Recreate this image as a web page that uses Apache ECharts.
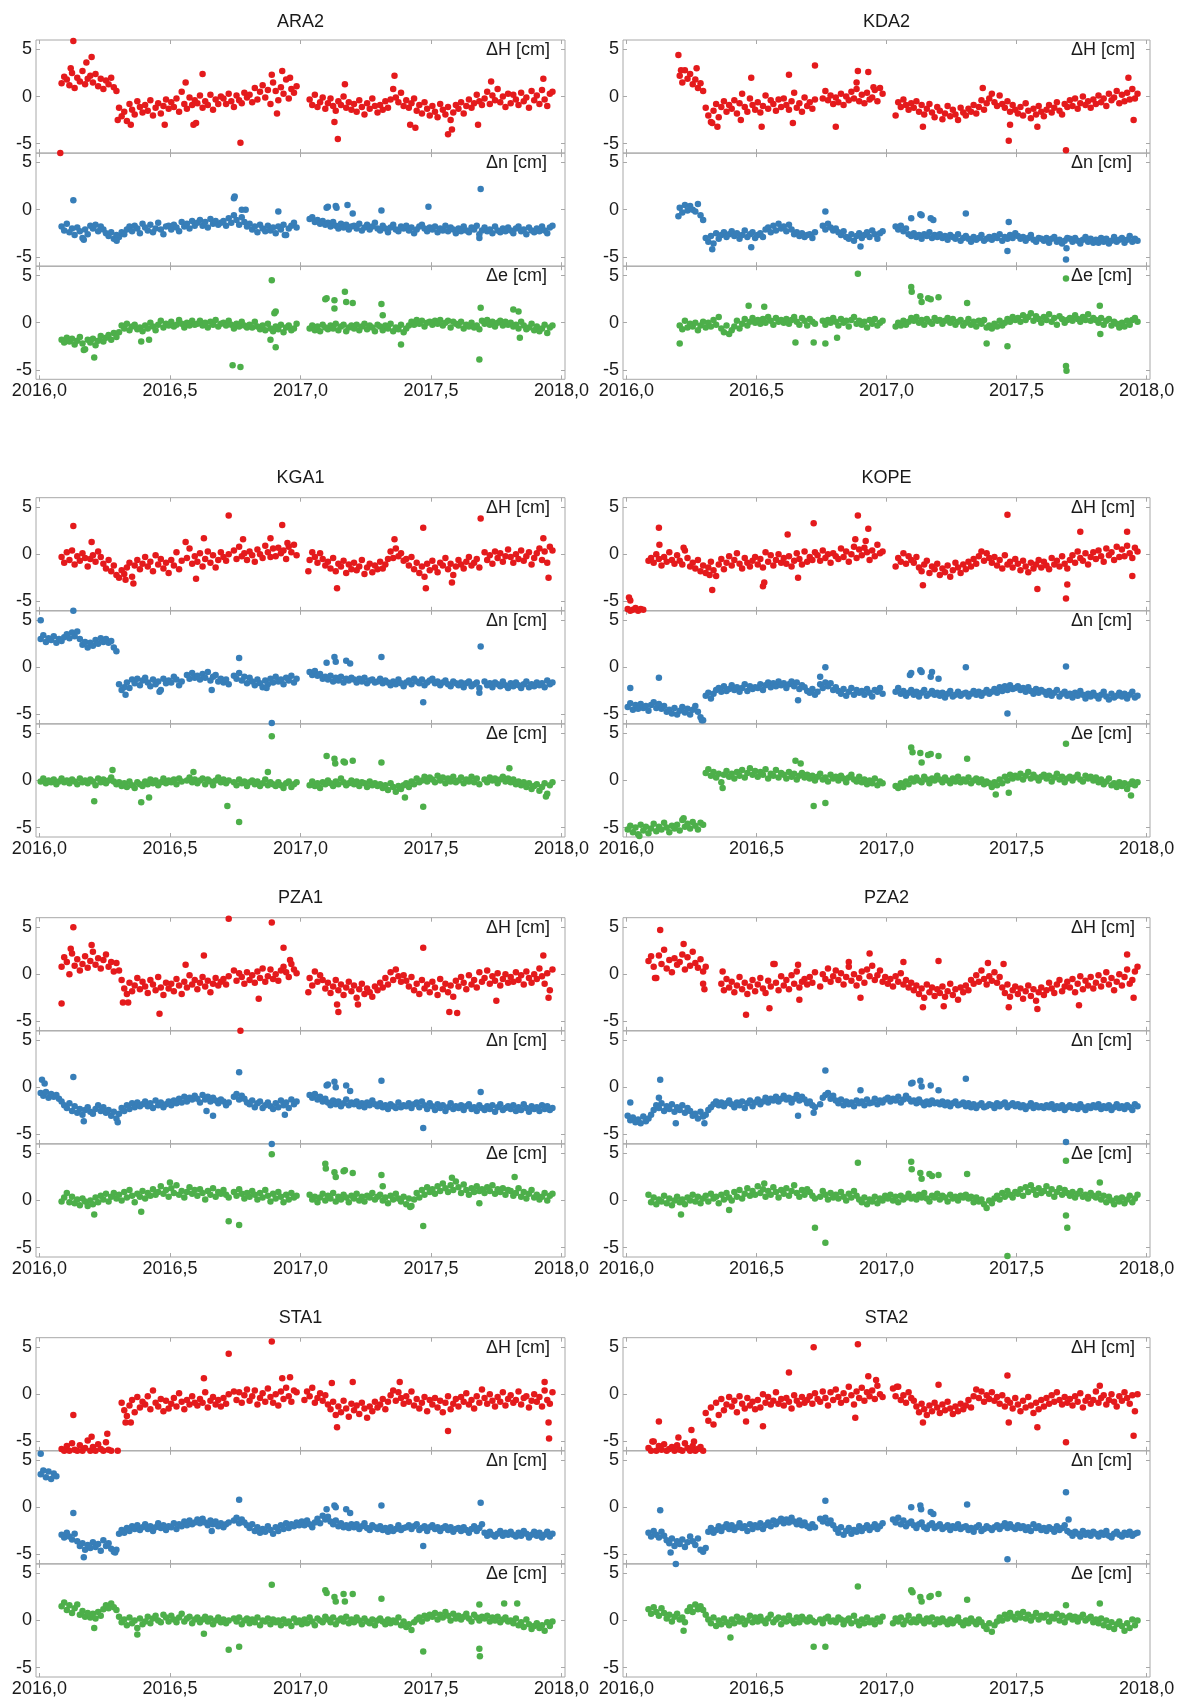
<!DOCTYPE html>
<html><head><meta charset="utf-8">
<script src="https://cdn.jsdelivr.net/npm/echarts@6/dist/echarts.min.js"></script>
<style>html,body{margin:0;padding:0;background:#fff}#c{width:1181px;height:1699px}</style>
</head><body><div id="c"></div>
<script>
const _ = null;
const gap = n => Array(n).fill(null);
// epochs: T0 + i*STEP (decimal years); values in mm (tenths of cm)
const T0 = 2016.005, STEP = 0.01;
const STATIONS = ['ARA2','KDA2','KGA1','KOPE','PZA1','PZA2','STA1','STA2'];
const X_TICKS = [2016, 2016.5, 2017, 2017.5, 2018];
const Y_TICKS = [-5, 0, 5];
const COMP_LABELS = ['ΔH [cm]', 'Δn [cm]', 'Δe [cm]'];

// ---------- ARA2 ----------
const ARA2_H = [...gap(8), 14, 21,
 18,12,25,9,20,16,27,13,19,22,
 15,24,11,19,8,17,13,20,10,6,
 -12,-21,-16,-26,-8,-14,-19,-5,-11,-17,
 -9,-15,-4,-20,-12,-7,-18,-10,-3,-13,
 -6,-11,-2,-16,5,-8,-13,-1,-9,-4,
 -7,1,-12,-5,-9,2,-14,-3,-8,0,
 -2,-8,3,-5,-11,1,-4,-7,4,-1,
 2,-6,9,-3,5,12,-1,7,-8,15,
 6,-4,10,3,18,-2,8,4,11,_,
 _,_,_,-3,-9,2,-11,-6,-1,-13,
 -7,-2,-10,-15,-5,-9,0,-12,-6,-14,
 -8,-16,-4,-11,-19,-7,-13,-2,-10,-17,
 -9,-14,-5,-12,-3,8,-1,-6,4,-10,
 -4,-12,-7,-2,-15,-9,-18,-6,-13,-20,
 -10,-16,-22,-8,-14,-19,-11,-25,-17,-9,
 -13,-6,-18,-10,-3,-12,-7,2,-5,-9,
 -2,5,-8,1,-4,8,-6,0,-11,3,
 -7,2,-3,-9,4,-5,-1,-12,6,-4,
 1,-8,7,-3,-10,3,5];
const ARA2_N = [...gap(8), -18, -22,
 -15,-24,-20,-27,-19,-23,-30,-21,-26,-17,
 -20,-16,-23,-18,-21,-25,-28,-24,-31,-27,
 -29,-24,-26,-21,-18,-23,-17,-20,-25,-15,
 -19,-22,-16,-24,-20,-14,-21,-26,-18,-17,
 -21,-16,-19,-23,-13,-18,-15,-20,-12,-17,
 -14,-11,-17,-13,-19,-10,-15,-12,-16,-14,
 -12,-17,-9,-14,-6,-11,-16,-8,-13,-18,
 -15,-21,-18,-24,-16,-20,-23,-17,-22,-19,
 -25,-18,-21,-16,-27,-20,-17,-14,-19,_,
 _,_,_,-10,-8,-13,-11,-15,-12,-16,
 -14,-18,-13,-17,-20,-15,-19,-16,-21,-18,
 -17,-20,-15,-22,-19,-16,-21,-18,-14,-20,
 -22,-17,-20,-24,-19,-16,-21,-23,-18,-20,
 -17,-22,-19,-25,-21,-18,-16,-20,-23,-19,
 -21,-18,-24,-20,-22,-17,-23,-19,-21,-25,
 -20,-23,-18,-22,-24,-19,-21,-17,-26,-22,
 -19,-23,-21,-25,-18,-22,-24,-20,-23,-19,
 -22,-25,-20,-18,-23,-21,-26,-19,-22,-24,
 -20,-23,-18,-22,-25,-19,-17];
const ARA2_E = [...gap(8), -18, -21,
 -16,-20,-17,-23,-19,-15,-22,-28,-18,-21,
 -17,-24,-19,-14,-20,-16,-13,-18,-11,-15,
 -10,-3,-6,-1,-8,-4,-2,-7,-5,-9,
 -3,-6,0,-4,-8,-2,2,-5,-1,-3,
 1,-4,-2,3,-1,-5,0,-3,2,-2,
 -1,2,-3,0,-5,1,-2,3,-4,-1,
 0,-3,2,-2,-6,-1,-4,1,-3,-5,
 -2,-5,1,-4,-7,-3,-8,-1,-6,-9,
 -4,-7,-2,-10,-5,-3,-8,-6,-1,_,
 _,_,_,-6,-3,-8,-4,-9,-2,-5,
 -7,-3,-6,-1,-8,-4,-2,-9,-5,-3,
 -6,-2,-8,-4,-1,-7,-3,-5,-9,-2,
 -4,-8,-3,-6,-1,-9,-5,-7,-2,-10,
 -6,-3,1,-2,3,-1,2,-4,0,1,
 -2,2,-1,3,-3,0,2,-5,1,-1,
 -3,1,-6,-2,-4,0,-5,-3,-7,2,
 -1,3,-2,1,-4,0,2,-3,1,-2,
 0,-4,-2,-6,1,-3,-7,-5,-1,-8,
 -4,-9,-6,-2,-11,-5,-3];
const ARA2_H_OUT = [[2016.08,-6.0],[2016.13,5.9],[2016.12,3.0],[2016.18,3.6],[2016.2,4.2],[2016.3,-2.5],[2016.35,-3.0],[2016.48,-3.0],[2016.56,1.5],[2016.59,-3.0],[2016.6,-2.8],[2016.625,2.4],[2016.77,-4.9],[2016.89,2.3],[2016.91,-1.8],[2016.93,2.7],[2016.96,2.0],[2017.13,-2.7],[2017.143,-4.5],[2017.17,1.3],[2017.36,2.2],[2017.42,-3.0],[2017.44,-3.3],[2017.565,-4.0],[2017.58,-3.5],[2017.68,-3.0],[2017.73,1.6],[2017.93,1.9]];
const ARA2_N_OUT = [[2016.13,1.0],[2016.17,-3.2],[2016.296,-3.3],[2016.745,1.2],[2016.748,1.4],[2016.775,0.0],[2016.79,0.0],[2016.915,-0.2],[2016.94,-2.7],[2017.1,0.2],[2017.105,0.3],[2017.135,0.4],[2017.138,0.2],[2017.18,0.5],[2017.2,-0.4],[2017.31,-0.1],[2017.49,0.3],[2017.685,-3.0],[2017.69,2.2]];
const ARA2_E_OUT = [[2016.17,-2.9],[2016.21,-3.7],[2016.39,-2.0],[2016.42,-1.8],[2016.74,-4.5],[2016.77,-4.7],[2016.885,-1.8],[2016.89,4.5],[2016.9,1.0],[2016.905,1.2],[2016.905,-2.6],[2017.095,2.5],[2017.1,2.6],[2017.13,2.4],[2017.13,1.5],[2017.17,3.3],[2017.175,2.2],[2017.2,2.1],[2017.31,2.0],[2017.315,0.8],[2017.385,-2.3],[2017.685,-3.9],[2017.69,1.6],[2017.815,1.4],[2017.835,1.2],[2017.84,-1.6]];

// ---------- KDA2 ----------
const KDA2_H = [...gap(20),
 22,15,28,19,24,13,18,9,14,6,
 -12,-20,-27,-15,-8,-22,-11,-5,-16,-9,
 -13,-4,-18,-7,3,-11,-16,-2,-9,-14,
 -6,-17,-10,1,-13,-4,-8,-15,-3,-11,
 -2,-9,-14,-5,4,-12,-7,-16,-1,-10,
 -6,-13,-3,_,_,-2,6,-4,1,-8,
 -1,-6,3,-9,0,-4,5,-2,8,-5,
 2,-7,4,-3,-1,7,-5,9,3,_,
 _,_,_,-20,-6,-11,-3,-9,-14,-7,
 -12,-5,-16,-9,-19,-13,-8,-17,-22,-11,
 -15,-24,-18,-10,-21,-14,-19,-25,-12,-17,
 -20,-13,-16,-9,-18,-11,-4,-14,-7,-2,
 3,-6,-10,1,-8,-12,-5,-16,-9,-14,
 -18,-11,-20,-7,-15,-23,-13,-19,-10,-16,
 -21,-14,-9,-17,-12,-6,-15,-19,-8,-11,
 -4,-10,-2,-13,-7,0,-9,-5,-12,-3,
 -8,1,-6,-2,-10,3,-4,-1,6,-7,
 2,-5,4,-3,8,-2,3];
const KDA2_N = [...gap(20),
 2,-3,5,-1,4,0,-2,6,-6,-11,
 -30,-34,-28,-36,-25,-31,-27,-24,-29,-26,
 -23,-28,-25,-31,-27,-22,-29,-26,-24,-30,
 -27,-25,-29,-21,-19,-24,-17,-22,-15,-20,
 -18,-23,-16,-21,-26,-24,-28,-25,-29,-27,
 -26,-30,-24,_,_,-17,-21,-15,-19,-22,
 -20,-24,-27,-23,-29,-31,-26,-33,-28,-25,
 -30,-27,-24,-29,-22,-26,-31,-25,-23,_,
 _,_,_,-18,-21,-17,-23,-20,-26,-28,
 -25,-29,-27,-31,-26,-28,-24,-30,-27,-29,
 -26,-30,-28,-32,-27,-29,-31,-26,-33,-30,
 -28,-31,-34,-29,-32,-30,-27,-33,-31,-29,
 -32,-28,-30,-26,-33,-29,-31,-27,-30,-25,
 -28,-31,-29,-33,-30,-27,-32,-34,-30,-31,
 -33,-30,-35,-31,-29,-34,-32,-36,-33,-30,
 -31,-34,-30,-33,-36,-32,-29,-34,-31,-35,
 -32,-35,-30,-34,-31,-36,-33,-29,-34,-32,
 -30,-35,-32,-28,-34,-31,-33];
const KDA2_E = [...gap(20),
 -3,-7,2,-5,-1,-4,0,-8,-3,1,
 -5,0,-4,3,-2,6,-6,-10,-3,-12,
 -8,-4,2,-6,-1,4,-3,1,5,0,
 3,-1,4,0,6,2,-2,5,1,3,
 0,4,-1,3,6,1,-2,5,2,-3,
 4,1,-1,_,_,2,-2,3,0,5,
 1,-3,4,0,2,-4,3,6,-1,2,
 -2,1,-5,3,-1,4,-3,0,2,_,
 _,_,_,-4,0,-3,2,-2,1,5,
 2,6,0,3,-2,4,1,-1,5,2,
 3,-1,2,5,0,4,-2,1,3,-3,
 0,4,-2,1,-4,2,-1,3,-5,-3,
 -6,-1,-4,2,-3,0,4,1,6,3,
 5,1,8,3,6,10,2,7,4,0,
 6,3,9,1,5,-2,7,4,0,3,
 5,2,8,4,1,6,3,9,2,5,
 3,0,5,-2,2,4,-3,1,-1,-5,
 0,-4,2,-2,3,5,1];
const KDA2_H_OUT = [[2016.2,4.4],[2016.21,2.8],[2016.27,3.0],[2016.33,-2.8],[2016.35,-3.2],[2016.44,-2.5],[2016.48,2.0],[2016.52,-3.2],[2016.625,2.3],[2016.64,-2.8],[2016.725,3.3],[2016.805,-3.2],[2016.885,1.5],[2016.89,2.7],[2016.93,2.6],[2016.95,1.0],[2017.14,-3.2],[2017.37,0.9],[2017.47,-4.7],[2017.475,-3.0],[2017.58,-3.2],[2017.69,-5.7],[2017.93,2.0],[2017.95,-2.5]];
const KDA2_N_OUT = [[2016.2,-0.7],[2016.33,-4.2],[2016.48,-4.0],[2016.765,-0.2],[2016.9,-3.9],[2017.095,-0.9],[2017.13,-0.5],[2017.135,-0.6],[2017.17,-0.9],[2017.18,-1.1],[2017.305,-0.4],[2017.465,-4.4],[2017.47,-1.3],[2017.69,-5.3],[2017.692,-4.1]];
const KDA2_E_OUT = [[2016.205,-2.2],[2016.47,1.8],[2016.53,1.7],[2016.65,-2.1],[2016.72,-2.1],[2016.765,-2.2],[2016.81,-1.6],[2016.89,5.2],[2017.095,3.8],[2017.097,3.3],[2017.13,2.8],[2017.135,2.2],[2017.16,2.6],[2017.17,2.5],[2017.2,2.7],[2017.31,2.1],[2017.385,-2.2],[2017.465,-2.5],[2017.69,4.7],[2017.69,-4.6],[2017.692,-5.1],[2017.82,1.8],[2017.822,-1.2]];

// ---------- KGA1 ----------
const KGA1_H = [...gap(8), -3, -9,
 2,-6,4,-11,-2,-7,1,-4,-13,-5,
 -1,-8,3,-3,-10,-15,-6,-18,-12,-22,
 -25,-17,-21,-14,-9,-24,-12,-6,-16,-10,
 -3,-13,-8,-18,-1,-11,-5,-15,-9,-20,
 -6,-12,2,-16,-7,_,-4,6,-10,-2,
 -8,1,-13,-5,3,-9,-1,-14,-6,2,
 -3,-7,0,_,4,-5,8,-2,1,-6,
 3,-1,-8,5,0,-4,9,2,-3,6,
 -2,7,1,4,-5,8,2,10,-1,_,
 _,_,_,-6,2,-3,-9,1,-5,-12,
 -8,-15,-4,-18,-10,-13,-7,-20,-11,-16,
 -9,-17,-13,-6,-21,-14,-10,-19,-12,-16,
 -8,-15,-11,-5,3,-4,6,-2,1,-7,
 -5,-12,-3,-16,-9,-20,-13,-24,-10,-17,
 -7,-14,-19,-9,-12,-4,-16,-10,-22,-13,
 -6,-11,-15,-8,-3,-12,-9,-5,-14,_,
 2,-6,-1,-10,3,-4,1,-8,-2,5,
 -3,-9,0,-5,4,-7,-2,2,-11,-4,
 1,6,-6,3,-9,8,4];
const KGA1_N = [
 30,34,27,31,29,33,26,30,28,32,
 35,31,37,33,38,30,24,27,21,26,
 23,29,25,31,27,30,26,28,21,17,
 -18,-24,-21,-16,-22,-13,-17,-12,-19,-14,
 -11,-16,-20,-13,-18,-15,-24,-12,-17,-14,
 -16,-10,-13,-19,-15,_,-8,-12,-6,-11,
 -9,-13,-7,-11,-5,-14,-10,-8,-15,-12,
 -16,-13,-18,_,-9,-12,-6,-14,-10,-17,
 -11,-15,-19,-13,-17,-21,-14,-18,-12,-16,
 -10,-15,-13,-18,-11,-14,-9,-16,-12,_,
 _,_,_,-5,-8,-4,-9,-7,-12,-10,
 -13,-9,-15,-11,-14,-10,-16,-12,-14,-11,
 -13,-16,-12,-15,-11,-17,-14,-13,-16,-15,
 -12,-17,-14,-16,-19,-15,-18,-13,-17,-20,
 -16,-14,-18,-12,-15,-17,-13,-19,-16,-14,
 -12,-17,-15,-19,-16,-14,-18,-20,-15,-17,
 -19,-16,-21,-17,-15,-20,-18,-16,-22,_,
 -15,-19,-17,-21,-16,-18,-20,-15,-19,-22,
 -17,-20,-16,-19,-22,-18,-15,-21,-18,-20,
 -16,-19,-17,-21,-14,-18,-16];
const KGA1_E = [
 -1,2,-3,0,-2,1,-4,-1,2,-2,
 0,-3,1,-1,-4,2,-2,0,-3,1,
 -1,-5,2,-2,1,-3,0,3,-1,-4,
 -2,-6,-3,-7,-1,-5,-8,-2,-4,-6,
 -1,-4,1,-3,0,-5,-2,2,-3,0,
 -2,1,-4,2,-1,_,0,3,-2,1,
 -3,0,2,-4,1,-1,-5,0,3,-2,
 1,-3,0,_,-2,-5,1,-3,-1,-6,
 -2,0,-4,-1,-6,-3,1,-5,-2,-4,
 -6,-2,-5,-8,-3,-1,-7,-4,-2,_,
 _,_,_,-5,-1,-6,-3,-8,-2,-4,
 0,-3,-6,-1,-4,2,-2,-5,-3,0,
 -4,-1,-6,-2,-3,-7,-1,-5,-3,-6,
 -4,-8,-5,-10,-3,-7,-12,-6,-9,-5,
 -3,-7,-1,-4,2,-2,0,4,-1,3,
 1,-2,5,0,3,-3,2,-1,4,-2,
 0,3,-3,1,-1,4,-2,2,-4,_,
 1,-2,3,0,2,-3,1,4,-1,2,
 -2,1,-4,-1,-5,-2,-7,-3,-9,-6,
 -4,-11,-7,-3,-14,-5,-2];
const KGA1_H_OUT = [[2016.13,3.0],[2016.2,1.3],[2016.33,-2.7],[2016.36,-3.1],[2016.56,1.3],[2016.6,-2.6],[2016.63,1.7],[2016.725,4.1],[2016.78,1.6],[2016.885,1.7],[2016.93,3.1],[2016.95,1.2],[2017.03,-1.8],[2017.14,-3.6],[2017.36,1.6],[2017.47,2.8],[2017.48,-3.6],[2017.58,-3.0],[2017.69,3.8],[2017.93,1.7],[2017.95,-2.5]];
const KGA1_N_OUT = [[2016.005,5.0],[2016.13,6.0],[2016.33,-2.9],[2016.46,-2.6],[2016.66,-2.4],[2016.765,1.0],[2016.87,-2.2],[2016.89,-5.9],[2017.1,0.5],[2017.13,1.1],[2017.135,0.6],[2017.175,0.7],[2017.19,0.4],[2017.31,1.1],[2017.47,-3.7],[2017.685,-2.7],[2017.69,2.2]];
const KGA1_E_OUT = [[2016.21,-2.2],[2016.28,1.1],[2016.39,-2.3],[2016.42,-1.8],[2016.59,0.9],[2016.72,-2.7],[2016.765,-4.4],[2016.875,0.9],[2016.89,4.7],[2017.1,2.6],[2017.13,2.3],[2017.133,1.8],[2017.165,2.0],[2017.17,1.9],[2017.2,2.1],[2017.31,1.9],[2017.4,-1.8],[2017.47,-2.8],[2017.8,1.3],[2017.94,-1.7]];

// ---------- KOPE ----------
const KOPE_H = [
 -58,-60,-59,-57,-60,-58,-59,_,-7,-4,
 -9,0,-5,-12,-3,-8,2,-6,-10,-1,
 -7,-11,4,-4,-13,-9,-15,-6,-18,-12,
 -20,-14,-8,-17,-23,-11,-5,-16,-9,-2,
 -12,-6,1,-10,-15,-4,-9,-13,-7,-3,
 -11,-5,-14,2,-8,-1,-12,-6,0,-9,
 -4,-10,-2,-13,-7,1,-5,-11,3,-8,
 -3,-6,2,-1,-7,4,-4,0,-9,1,
 -2,-5,6,-3,3,-8,0,8,-4,5,
 -1,7,2,-6,4,-2,10,1,3,_,
 _,_,_,-13,-4,-8,1,-10,-2,-6,
 -9,-3,-14,-18,-11,-7,-20,-13,-16,-10,
 -22,-15,-19,-12,-24,-17,-9,-14,-20,-11,
 -16,-8,-13,-5,-10,-2,3,-7,1,-4,
 -9,-3,-12,-6,-15,-1,-11,-8,-14,-5,
 -10,-17,-7,-13,-19,-9,-15,-11,-6,-14,
 -8,-12,-16,-4,-11,-7,-13,-2,-10,-15,
 -6,-1,-9,3,-4,-7,1,-11,-3,2,
 -5,4,-2,-8,6,-1,2,-6,8,-3,
 5,-2,9,1,-4,7,3];
const KOPE_N = [
 -42,-38,-45,-40,-44,-39,-43,-41,-46,-40,
 -37,-43,-39,-44,-41,-47,-45,-49,-43,-50,
 -46,-42,-48,-44,-50,-45,-41,-47,-53,-56,
 -30,-27,-33,-28,-24,-22,-26,-20,-25,-23,
 -19,-24,-21,-26,-22,-18,-25,-20,-23,-21,
 -22,-18,-24,-19,-16,-21,-17,-20,-15,-19,
 -17,-22,-18,-15,-20,-16,-23,-19,-21,-25,
 -27,-23,-29,-26,-18,-22,-16,-20,-17,-24,
 -21,-25,-28,-23,-30,-26,-22,-29,-24,-27,
 -25,-29,-23,-27,-31,-24,-26,-22,-28,_,
 _,_,_,-26,-22,-28,-25,-30,-27,-24,
 -29,-26,-31,-27,-24,-30,-28,-25,-29,-27,
 -30,-27,-32,-28,-25,-31,-29,-26,-30,-28,
 -27,-31,-28,-25,-29,-26,-30,-27,-24,-28,
 -26,-23,-27,-21,-25,-20,-24,-19,-23,-22,
 -20,-24,-22,-26,-21,-25,-28,-23,-27,-24,
 -26,-29,-25,-30,-27,-24,-31,-28,-26,-30,
 -28,-32,-27,-30,-25,-29,-33,-28,-31,-27,
 -30,-33,-29,-26,-31,-34,-28,-32,-30,-27,
 -31,-28,-33,-29,-26,-32,-30];
const KOPE_E = [
 -52,-48,-55,-50,-57,-47,-53,-49,-56,-51,
 -46,-54,-49,-52,-45,-50,-55,-48,-51,-47,
 -53,-42,-49,-46,-51,-44,-48,-52,-45,-47,
 8,12,5,9,3,7,-2,6,10,4,
 7,2,9,5,11,3,8,13,6,10,
 4,9,6,12,2,7,5,11,3,8,
 6,2,9,4,7,1,5,8,3,6,
 2,5,0,4,7,1,3,-1,6,2,
 4,0,5,2,-2,3,6,1,-1,4,
 -2,1,-4,0,-3,2,-5,-1,-3,_,
 _,_,_,-6,-8,-3,-7,-1,-4,2,
 -1,3,0,-2,4,1,-3,2,0,5,
 1,-2,3,0,-3,2,-1,4,-2,1,
 -1,3,-3,0,2,-2,1,-4,-1,-3,
 -7,-2,-5,1,-3,4,0,6,2,5,
 3,7,1,5,9,2,6,3,0,4,
 6,2,5,-1,3,7,1,4,-2,2,
 4,0,3,6,1,-1,5,2,4,0,
 3,-2,1,-4,-1,2,-5,-3,-7,-2,
 -6,-3,-9,-4,-1,-5,-2];
const KOPE_H_OUT = [[2016.01,-4.6],[2016.015,-4.9],[2016.125,2.8],[2016.127,1.0],[2016.22,0.7],[2016.32,-2.2],[2016.33,-3.8],[2016.525,-3.4],[2016.53,-3.0],[2016.62,2.1],[2016.66,-2.5],[2016.72,3.3],[2016.88,1.6],[2016.89,4.1],[2016.92,1.4],[2016.93,2.7],[2017.14,-3.3],[2017.465,4.2],[2017.58,-3.7],[2017.69,-4.7],[2017.695,-3.2],[2017.745,2.4],[2017.925,2.4],[2017.945,-2.3]];
const KOPE_N_OUT = [[2016.015,-2.2],[2016.125,-1.1],[2016.29,-5.6],[2016.66,-3.5],[2016.745,-1.0],[2016.765,0.0],[2017.09,-0.8],[2017.095,-0.6],[2017.13,-0.3],[2017.135,-0.5],[2017.17,-1.0],[2017.175,-0.5],[2017.2,-1.2],[2017.305,0.0],[2017.465,-4.9],[2017.69,0.1]];
const KOPE_E_OUT = [[2016.05,-5.9],[2016.22,-4.0],[2016.37,-0.8],[2016.65,2.1],[2016.67,1.8],[2016.72,-2.7],[2016.765,-2.4],[2017.095,3.5],[2017.1,3.0],[2017.13,2.9],[2017.135,1.9],[2017.16,2.7],[2017.17,2.8],[2017.2,2.6],[2017.31,2.3],[2017.42,-1.5],[2017.47,-1.3],[2017.69,3.9],[2017.94,-1.6]];

// ---------- PZA1 ----------
const PZA1_H = [...gap(8), 8, 18,
 13,0,22,9,16,4,11,19,7,14,
 24,10,17,6,15,21,8,13,3,12,
 4,-6,-15,-21,-9,-18,-12,-4,-16,-8,
 -13,-20,-6,-11,-17,-3,-14,-22,-9,-15,
 -10,-18,-5,-12,-21,-8,-14,-1,-11,-6,
 -16,-9,-3,-13,-7,-19,-10,-4,-12,-8,
 -5,-11,-2,_,4,-7,1,-3,-10,2,
 -6,-1,-9,3,-4,6,-8,-2,5,-5,
 0,-7,4,8,2,-3,11,5,1,_,
 _,_,_,-4,-12,3,-8,-1,-6,-15,
 -9,-20,-13,-6,-17,-11,-22,-14,-8,-18,
 -12,-25,-16,-10,-21,-15,-19,-24,-13,-17,
 -9,-14,-4,-11,2,-6,5,-2,-8,-1,
 -7,-13,-3,-17,-10,-21,-6,-15,-11,-19,
 -8,-14,-22,-5,-16,-10,-19,-12,-24,-7,
 -13,-3,-9,-16,-1,-11,-6,-14,2,-8,
 -4,4,-10,-2,-7,1,-12,-5,0,-9,
 -3,-8,2,-6,-1,-11,3,-4,-9,0,
 -5,6,-2,-10,1,-17,5];
const PZA1_N = [
 -6,-9,-5,-11,-7,-10,-8,-12,-15,-19,
 -22,-17,-25,-20,-27,-23,-29,-24,-21,-26,
 -28,-23,-19,-25,-21,-27,-24,-30,-26,-33,
 -28,-22,-25,-19,-23,-17,-21,-16,-20,-18,
 -15,-20,-17,-22,-14,-19,-16,-21,-18,-15,
 -19,-14,-17,-12,-16,-10,-15,-11,-13,-9,
 -12,-16,-8,-13,-10,-15,-11,-14,-17,-13,
 -15,-19,-16,_,-10,-7,-13,-9,-12,-16,
 -18,-14,-21,-17,-15,-22,-19,-16,-20,-23,
 -17,-21,-14,-19,-16,-22,-13,-18,-15,_,
 _,_,_,-8,-11,-7,-13,-10,-15,-12,
 -16,-19,-14,-18,-15,-20,-17,-13,-19,-16,
 -18,-15,-20,-17,-21,-16,-19,-14,-18,-20,
 -17,-21,-19,-23,-18,-20,-22,-16,-21,-19,
 -20,-17,-22,-18,-16,-21,-15,-19,-23,-17,
 -20,-24,-18,-22,-19,-25,-21,-17,-23,-20,
 -22,-19,-24,-20,-18,-23,-21,-25,-19,-22,
 -24,-20,-23,-19,-26,-21,-18,-24,-22,-20,
 -23,-19,-25,-21,-24,-18,-22,-26,-20,-23,
 -21,-25,-19,-23,-20,-24,-22];
const PZA1_E = [...gap(8), -1, 3,
 8,-2,4,-3,1,-5,2,-1,-6,0,
 -4,3,-2,5,1,7,-1,4,8,2,
 6,0,9,3,11,5,-2,7,4,10,
 2,8,5,12,6,9,15,7,11,4,
 13,8,16,6,10,3,9,14,7,11,
 5,12,8,1,10,6,13,4,9,7,
 11,6,3,_,9,5,12,7,2,8,
 4,10,6,1,8,3,11,5,-1,7,
 2,9,4,-2,6,1,8,3,5,_,
 _,_,_,6,1,4,-2,3,7,0,
 5,2,8,-1,4,1,6,3,-2,5,
 2,7,0,4,-1,5,3,8,1,4,
 6,0,3,-3,5,1,7,2,-1,4,
 -4,2,-6,1,8,3,11,6,14,9,
 12,7,15,10,18,13,9,16,11,20,
 14,8,17,11,6,13,9,15,10,12,
 8,14,10,16,7,12,9,13,6,11,
 10,5,8,13,4,9,2,7,11,3,
 6,1,4,8,0,5,7];
const PZA1_H_OUT = [[2016.085,-3.1],[2016.12,2.7],[2016.13,5.0],[2016.2,3.1],[2016.32,-3.0],[2016.34,-3.0],[2016.46,-4.2],[2016.56,1.0],[2016.63,2.0],[2016.725,5.9],[2016.77,-6.0],[2016.84,-2.6],[2016.89,5.5],[2016.935,2.8],[2016.96,1.5],[2017.03,-1.9],[2017.14,-3.2],[2017.145,-4.0],[2017.22,-3.2],[2017.47,2.8],[2017.57,-4.0],[2017.6,-4.1],[2017.75,-2.8],[2017.93,2.0],[2017.95,-2.5]];
const PZA1_N_OUT = [[2016.01,0.8],[2016.02,0.4],[2016.13,1.1],[2016.17,-3.6],[2016.3,-3.7],[2016.64,-2.5],[2016.665,-3.0],[2016.765,1.6],[2016.89,-6.0],[2016.94,-2.9],[2017.1,0.2],[2017.105,0.3],[2017.13,0.6],[2017.135,0.0],[2017.175,0.2],[2017.19,-0.4],[2017.31,0.7],[2017.47,-4.3],[2017.69,-0.5]];
const PZA1_E_OUT = [[2016.21,-1.5],[2016.39,-1.2],[2016.5,1.9],[2016.725,-2.2],[2016.765,-2.6],[2016.89,4.9],[2017.095,3.9],[2017.097,3.4],[2017.13,3.0],[2017.135,2.5],[2017.165,3.1],[2017.17,3.2],[2017.2,2.9],[2017.31,2.7],[2017.315,1.5],[2017.42,-0.7],[2017.47,-2.7],[2017.58,2.4],[2017.685,-0.3],[2017.82,2.5]];

// ---------- PZA2 ----------
const PZA2_H = [...gap(8), 14, 19,
 8,-4,20,11,26,6,15,2,17,10,
 13,21,5,18,9,24,12,7,16,3,
 8,_,_,_,_,_,-10,-17,-5,-14,
 -8,-19,-12,-3,-16,-9,-21,-13,-6,-18,
 -11,-4,-15,-20,-7,-13,11,-9,-17,-2,
 -12,-6,-16,-1,-10,3,-14,-8,-5,-11,
 -3,-9,2,_,-13,0,-5,6,-8,-2,
 4,-6,1,-11,-3,8,-7,0,-12,-4,
 3,-9,5,-2,9,-6,-1,4,-8,-3,
 -10,-5,-13,-2,-8,1,-11,-6,-14,-9,
 -17,-12,-21,-15,-25,-11,-19,-14,-23,-16,
 -20,-13,-24,-18,-10,-22,-16,-27,-14,-19,
 -12,-17,-6,-10,-1,-8,4,-5,-11,-2,
 -7,2,-9,-3,-14,-20,-11,-24,-17,-13,
 -21,-15,-26,-18,-12,-23,-16,-28,-19,-14,
 -22,-17,-9,-15,-20,-11,-6,-18,-13,-8,
 -14,-5,-19,-10,-2,-16,-7,-12,-3,-15,
 -9,-1,-13,-6,2,-11,-4,-17,-8,0,
 -12,-3,5,-10,-6,3,8];
const PZA2_N = [
 -30,-35,-32,-37,-34,-38,-31,-36,-33,-29,
 -24,-19,-22,-17,-25,-20,-23,-18,-26,-21,
 -24,-19,-27,-22,-25,-30,-28,-33,-26,-31,
 -29,-24,-21,-18,-15,-19,-16,-20,-17,-14,
 -18,-21,-16,-19,-15,-22,-17,-14,-20,-16,
 -13,-18,-15,-11,-16,-12,-14,-10,-15,-12,
 -9,-13,-11,-16,-12,-8,-14,-10,-13,-17,
 -15,-19,-21,_,-18,-11,-8,-6,-12,-9,
 -14,-17,-13,-19,-15,-18,-16,-20,-14,-17,
 -15,-19,-13,-17,-16,-12,-18,-14,-16,-13,
 -11,-15,-12,-14,-10,-16,-13,-9,-12,-15,
 -14,-17,-13,-16,-19,-15,-18,-14,-17,-16,
 -18,-15,-19,-16,-20,-17,-15,-19,-18,-16,
 -20,-17,-21,-18,-22,-19,-17,-21,-20,-18,
 -19,-22,-17,-20,-18,-16,-21,-19,-17,-20,
 -18,-21,-19,-23,-20,-17,-22,-19,-21,-20,
 -22,-19,-21,-18,-23,-20,-22,-19,-24,-21,
 -19,-22,-20,-23,-18,-21,-24,-20,-22,-19,
 -21,-18,-23,-20,-22,-19,-24,-21,-18,-22,
 -20,-23,-19,-21,-24,-18,-20];
const PZA2_E = [...gap(8), 6, -2,
 3,-4,1,-1,5,-3,2,-5,0,4,
 -2,1,-4,3,0,6,-1,4,-3,2,
 5,-1,7,2,4,-3,6,1,8,3,
 0,9,4,11,2,7,13,5,10,6,
 15,8,12,4,10,6,14,9,3,11,
 7,13,5,10,16,8,4,11,6,12,
 9,5,2,_,4,10,6,1,8,3,
 6,2,9,4,0,7,3,10,5,1,
 -2,3,-4,1,-1,4,-3,2,0,5,
 2,6,0,4,-2,5,1,3,7,2,
 4,1,6,3,8,2,-1,5,3,7,
 1,5,3,-1,6,2,4,0,5,3,
 6,2,4,-2,3,-1,1,-4,-8,0,
 -3,2,5,1,8,4,10,6,3,9,
 7,12,5,14,9,16,11,6,13,8,
 10,15,7,12,4,9,13,6,11,8,
 5,9,3,7,10,4,6,2,8,5,
 3,7,1,5,-2,4,0,-4,2,-1,
 3,-3,1,5,-2,2,6];
const PZA2_H_OUT = [[2016.11,-0.4],[2016.13,4.7],[2016.22,3.2],[2016.295,-1.0],[2016.3,-1.6],[2016.37,0.3],[2016.46,-4.3],[2016.55,-3.6],[2016.57,1.1],[2016.66,1.0],[2016.665,-2.7],[2016.855,1.3],[2016.9,-2.5],[2016.935,2.2],[2017.065,1.3],[2017.14,-3.5],[2017.2,1.4],[2017.22,-3.4],[2017.39,1.2],[2017.45,1.1],[2017.47,-3.5],[2017.58,-3.7],[2017.74,-3.3],[2017.925,2.1],[2017.95,-2.5]];
const PZA2_N_OUT = [[2016.015,-1.6],[2016.13,0.8],[2016.125,-1.1],[2016.19,-3.8],[2016.3,-3.8],[2016.66,-3.0],[2016.72,-2.7],[2016.765,1.8],[2016.9,-0.3],[2017.095,0.4],[2017.1,0.5],[2017.13,0.7],[2017.135,0.1],[2017.17,0.2],[2017.2,-0.3],[2017.305,0.9],[2017.69,-5.8]];
const PZA2_E_OUT = [[2016.21,-1.5],[2016.395,-1.0],[2016.53,1.8],[2016.725,-2.9],[2016.765,-4.5],[2016.89,4.0],[2017.095,4.1],[2017.097,3.3],[2017.13,2.9],[2017.135,2.3],[2017.165,2.8],[2017.175,2.6],[2017.2,2.7],[2017.31,2.8],[2017.465,-5.9],[2017.69,4.2],[2017.69,-1.6],[2017.695,-2.9],[2017.82,1.9]];

// ---------- STA1 ----------
const STA1_H = [...gap(8), -58, -60,
 -55,-60,-52,-59,-60,-54,-60,-57,-49,-60,
 -56,-60,-53,-58,-60,-51,-59,-60,_,_,
 _,-9,-17,-23,-12,-6,-19,-3,-14,-8,
 -11,-2,-16,4,-9,-13,-5,-18,-7,-15,
 -10,-4,-13,1,-8,-16,-6,-11,-2,-9,
 -12,-5,-9,2,-14,-7,-3,-11,-6,-13,
 -4,-10,0,_,3,-6,2,-9,-1,5,
 -7,-2,4,-11,-4,1,-8,6,-3,-9,
 0,-12,3,-5,7,-2,-8,4,2,_,
 _,-6,3,-2,7,-9,-4,1,-7,-1,
 -11,-16,-8,-22,-13,-19,-7,-15,-24,-10,
 -17,-12,-21,-9,-15,-25,-13,-18,-8,-14,
 -11,-5,-16,-8,-1,4,-7,2,-4,-10,
 -2,-8,3,-12,-5,-15,-9,-3,-18,-6,
 -11,-4,-14,-7,-19,-9,-2,-16,-10,-5,
 -13,-3,-8,1,-11,-6,-15,-2,-9,5,
 -4,-10,0,-7,-13,-3,-8,2,-12,-5,
 -1,-9,-6,3,-11,-4,-2,-14,-7,0,
 -8,-3,-13,4,-6,-10,2];
const STA1_N = [
 35,39,32,38,30,36,33,_,-29,-32,
 -27,-31,-34,-28,-36,-41,-38,-45,-40,-43,
 -37,-42,-39,-46,-35,-41,-38,-44,-47,-45,
 -28,-24,-27,-22,-25,-20,-23,-19,-24,-21,
 -18,-23,-20,-25,-21,-17,-22,-19,-24,-20,
 -21,-17,-23,-18,-20,-15,-19,-14,-18,-16,
 -13,-17,-12,-16,-19,-14,-18,-15,-20,-17,
 -21,-18,-16,_,-14,-11,-17,-13,-16,-19,
 -22,-18,-25,-21,-27,-23,-26,-20,-24,-28,
 -21,-25,-19,-23,-17,-22,-18,-20,-16,-19,
 -15,-19,-14,-18,-21,-16,-12,-17,-9,-13,
 -10,-15,-18,-14,-20,-17,-21,-19,-22,-18,
 -21,-18,-23,-20,-17,-22,-24,-19,-21,-23,
 -20,-24,-22,-26,-21,-25,-23,-19,-24,-22,
 -21,-19,-23,-20,-18,-24,-22,-20,-25,-21,
 -19,-23,-21,-25,-22,-20,-24,-21,-26,-23,
 -22,-25,-21,-24,-27,-23,-20,-25,-22,-18,
 -27,-30,-26,-29,-31,-28,-25,-30,-27,-29,
 -26,-29,-31,-27,-30,-25,-28,-32,-29,-26,
 -30,-27,-32,-29,-26,-31,-28];
const STA1_E = [...gap(8), 15, 19,
 11,16,8,13,17,6,10,4,8,3,
 7,2,9,5,12,16,13,18,14,11,
 4,-2,1,-5,3,-3,0,-8,2,-4,
 -1,4,-3,2,5,0,-2,6,3,-1,
 5,1,-2,3,7,-1,2,4,-3,1,
 3,-2,1,4,-1,2,-4,0,3,-2,
 1,-3,0,_,2,-1,3,-4,0,2,
 -3,1,-2,3,-5,0,-1,2,-4,1,
 -2,0,-5,1,-3,-1,-6,2,-2,0,
 -4,1,-3,3,-1,-5,2,0,-2,4,
 1,-2,3,-4,0,2,-1,4,-3,1,
 -2,3,0,-4,2,-1,-3,1,-5,0,
 2,-1,-4,1,-3,0,-2,3,-5,-1,
 -7,-4,-10,-2,1,3,-1,5,2,6,
 4,8,1,6,3,9,5,0,7,2,
 5,1,4,7,2,-1,6,3,0,4,
 2,5,-1,3,0,4,-2,1,3,-1,
 0,-3,2,-5,-2,-7,1,-4,-9,-6,
 -3,-8,-5,-11,-2,-6,-1];
const STA1_H_OUT = [[2016.13,-2.2],[2016.2,-4.5],[2016.26,-4.2],[2016.3,-6.0],[2016.33,-3.0],[2016.35,-3.0],[2016.63,1.7],[2016.725,4.3],[2016.89,5.6],[2016.93,1.7],[2016.96,1.8],[2017.12,1.2],[2017.14,-3.5],[2017.2,1.3],[2017.38,1.3],[2017.565,-3.9],[2017.935,1.3],[2017.95,-3.0],[2017.952,-4.7]];
const STA1_N_OUT = [[2016.005,5.7],[2016.13,-0.6],[2016.17,-5.3],[2016.29,-4.8],[2016.66,-2.5],[2016.765,0.8],[2017.1,-0.2],[2017.13,0.2],[2017.135,0.0],[2017.175,-0.2],[2017.19,-0.6],[2017.31,0.2],[2017.47,-4.1],[2017.69,0.5]];
const STA1_E_OUT = [[2016.21,-0.8],[2016.375,-1.5],[2016.63,-1.4],[2016.725,-3.1],[2016.765,-2.8],[2016.89,3.8],[2017.095,3.2],[2017.1,2.9],[2017.13,2.5],[2017.135,2.0],[2017.165,2.8],[2017.17,2.0],[2017.2,2.8],[2017.31,2.3],[2017.47,-3.3],[2017.685,-3.0],[2017.687,-3.8],[2017.685,1.7],[2017.78,1.8],[2017.83,1.8]];

// ---------- STA2 ----------
const STA2_H = [...gap(8), -57, -60,
 -50,-60,-55,-59,-53,-60,-58,-56,-60,-54,
 -59,-60,-52,-57,-60,-55,-60,-58,-56,-60,
 -20,-28,-14,-32,-9,-22,-5,-17,-11,-3,
 -13,-7,-19,-2,-10,-15,-4,-12,-8,-16,
 -6,-14,0,-9,-3,-11,-7,2,-10,-5,
 -12,-4,-8,-15,-1,-7,-11,-3,-9,-6,
 -2,-10,1,-5,-8,3,-4,-12,2,-6,
 5,-3,-9,1,-6,8,-1,-11,3,-4,
 7,-7,2,-2,4,-5,9,0,-3,_,
 _,_,6,-2,8,-6,-1,-9,2,-4,
 -7,-13,-19,-10,-16,-22,-12,-18,-9,-14,
 -20,-11,-17,-8,-15,-21,-13,-18,-10,-16,
 -12,-6,-14,-2,5,-4,3,-8,-1,-5,
 2,-7,-3,-10,-1,-13,-6,-9,-15,-4,
 -11,-18,-7,-14,-3,-12,-20,-9,-16,-6,
 -13,-4,-10,-1,-8,2,-6,-11,-3,-9,
 -5,-12,-2,-8,1,-14,-7,-3,-10,-6,
 3,-9,-4,-1,-11,-6,0,-8,-13,-2,
 -7,2,-4,-10,-1,-18,0];
const STA2_N = [...gap(8), -27, -31,
 -25,-29,-32,-26,-30,-35,-38,-33,-41,-36,
 -39,-34,-42,-37,-31,-36,-40,-33,-45,-47,
 -43,-26,-22,-27,-24,-20,-25,-21,-18,-23,
 -19,-24,-21,-17,-22,-20,-25,-18,-23,-19,
 -21,-17,-23,-19,-16,-20,-14,-18,-15,-12,
 -17,-13,-16,-11,-15,-18,-14,-19,-16,-20,
 -22,-18,-21,_,-12,-15,-11,-17,-14,-19,
 -23,-27,-21,-29,-25,-22,-28,-24,-26,-20,
 -25,-22,-19,-24,-21,-18,-23,-20,-17,_,
 _,_,-13,-16,-11,-18,-14,-20,-17,-15,
 -19,-22,-18,-16,-21,-23,-19,-17,-22,-20,
 -18,-23,-21,-19,-24,-20,-22,-18,-23,-21,
 -20,-24,-22,-26,-21,-19,-25,-23,-20,-22,
 -24,-21,-19,-23,-20,-17,-22,-18,-21,-23,
 -19,-22,-20,-24,-21,-25,-18,-22,-20,-24,
 -22,-25,-21,-23,-26,-20,-24,-22,-19,-25,
 -27,-30,-26,-28,-31,-25,-29,-27,-30,-26,
 -28,-31,-27,-29,-25,-30,-32,-28,-26,-29,
 -31,-27,-29,-26,-30,-28,-27];
const STA2_E = [...gap(8), 12, 7,
 14,9,5,13,8,2,6,-1,4,7,
 1,3,-2,10,14,9,17,12,15,11,
 6,1,-3,3,-6,0,-4,2,-2,-5,
 1,-3,4,-1,2,-4,0,5,-2,3,
 -1,4,0,-3,2,6,-2,1,3,-4,
 2,-1,5,0,-3,3,-2,4,1,-1,
 3,0,-2,_,1,-3,2,4,-1,0,
 -2,3,1,-4,0,2,-3,5,-1,-5,
 1,-3,3,-2,0,-4,2,-1,4,_,
 _,_,-3,2,-1,3,-4,0,5,-2,
 1,-2,4,0,-3,2,-1,3,-4,1,
 -2,2,-1,-4,1,-3,0,3,-2,-5,
 0,-3,2,-1,-4,1,-2,-6,-9,-3,
 -12,-5,-1,3,0,6,2,8,4,1,
 7,3,9,2,6,0,4,8,1,5,
 3,6,-1,4,2,7,0,5,-2,3,
 5,1,4,-1,3,6,0,2,4,-2,
 1,-3,2,-5,0,-7,-2,-9,-4,-1,
 -6,-11,-3,-8,1,-5,0];
const STA2_H_OUT = [[2016.1,-5.0],[2016.125,-2.9],[2016.2,-4.6],[2016.25,-3.8],[2016.26,-5.0],[2016.46,-2.9],[2016.525,-3.4],[2016.625,2.3],[2016.72,5.0],[2016.88,-2.5],[2016.89,5.3],[2016.93,1.9],[2016.96,1.5],[2017.04,0.8],[2017.14,-3.0],[2017.2,1.0],[2017.465,2.0],[2017.47,-3.0],[2017.58,-3.5],[2017.69,-5.1],[2017.82,0.9],[2017.95,-4.4]];
const STA2_N_OUT = [[2016.13,-0.3],[2016.17,-4.8],[2016.19,-6.0],[2016.765,0.7],[2017.095,0.0],[2017.13,0.2],[2017.133,-0.2],[2017.17,-0.5],[2017.18,-0.7],[2017.31,0.3],[2017.465,-5.5],[2017.69,1.6],[2017.7,-1.3]];
const STA2_E_OUT = [[2016.22,-1.1],[2016.4,-1.8],[2016.72,-2.8],[2016.765,-2.8],[2016.89,3.6],[2017.095,3.2],[2017.1,3.0],[2017.13,2.5],[2017.135,2.0],[2017.165,2.5],[2017.17,2.6],[2017.2,2.8],[2017.31,2.2],[2017.69,1.6],[2017.82,1.8]];

const DATA = {
  ARA2: [[ARA2_H, ARA2_H_OUT], [ARA2_N, ARA2_N_OUT], [ARA2_E, ARA2_E_OUT]],
  KDA2: [[KDA2_H, KDA2_H_OUT], [KDA2_N, KDA2_N_OUT], [KDA2_E, KDA2_E_OUT]],
  KGA1: [[KGA1_H, KGA1_H_OUT], [KGA1_N, KGA1_N_OUT], [KGA1_E, KGA1_E_OUT]],
  KOPE: [[KOPE_H, KOPE_H_OUT], [KOPE_N, KOPE_N_OUT], [KOPE_E, KOPE_E_OUT]],
  PZA1: [[PZA1_H, PZA1_H_OUT], [PZA1_N, PZA1_N_OUT], [PZA1_E, PZA1_E_OUT]],
  PZA2: [[PZA2_H, PZA2_H_OUT], [PZA2_N, PZA2_N_OUT], [PZA2_E, PZA2_E_OUT]],
  STA1: [[STA1_H, STA1_H_OUT], [STA1_N, STA1_N_OUT], [STA1_E, STA1_E_OUT]],
  STA2: [[STA2_H, STA2_H_OUT], [STA2_N, STA2_N_OUT], [STA2_E, STA2_E_OUT]]
};

// ---------- layout / style ----------
const FONT = '"Liberation Sans", Arial, Helvetica, sans-serif';
const COLORS = ['#e41a1c', '#377eb8', '#4daf4a'];
const BORDER = '#a8a8a8';
const TEXT = '#1a1a1a';
const COL_LEFT = [36, 623], COL_W = [529, 527];
const ROW_TOP = [40, 497.7, 917.7, 1337.7];
const TITLE_Y = [21.7, 478.3, 898, 1318];
const PH = 113.1;
const X_MIN = 2015.987, X_MAX = 2018.013;

const grids = [], xAxes = [], yAxes = [], series = [], graphics = [];
STATIONS.forEach((st, s) => {
  const c = s % 2, r = Math.floor(s / 2);
  graphics.push({type: 'text', x: COL_LEFT[c] + COL_W[c] / 2, y: TITLE_Y[r], silent: true,
    style: {text: st, fontSize: 18, fontFamily: FONT, fill: TEXT, align: 'center', verticalAlign: 'middle'}});
  for (let k = 0; k < 3; k++) {
    const gi = grids.length;
    const top = ROW_TOP[r] + k * PH;
    grids.push({left: COL_LEFT[c], top: top, width: COL_W[c], height: PH, show: true,
      borderColor: BORDER, borderWidth: 1, backgroundColor: 'transparent'});
    const tick = {show: true, inside: true, length: 4, lineStyle: {color: BORDER, width: 1}};
    const xb = {type: 'value', gridIndex: gi, min: X_MIN, max: X_MAX, splitLine: {show: false},
      axisLine: {show: false, onZero: false}};
    xAxes.push(Object.assign({}, xb, {position: 'bottom',
      axisTick: Object.assign({customValues: X_TICKS}, tick),
      axisLabel: {show: k === 2, customValues: X_TICKS, formatter: v => v.toFixed(1).replace('.', ','),
        fontSize: 18, fontFamily: FONT, color: TEXT, margin: 3}}));
    xAxes.push(Object.assign({}, xb, {position: 'top',
      axisTick: Object.assign({customValues: X_TICKS}, tick), axisLabel: {show: false}}));
    const yb = {type: 'value', gridIndex: gi, min: -6, max: 6, splitLine: {show: false},
      axisLine: {show: false, onZero: false}};
    yAxes.push(Object.assign({}, yb, {position: 'left',
      axisTick: Object.assign({customValues: Y_TICKS}, tick),
      axisLabel: {show: true, customValues: Y_TICKS, formatter: v => String(v),
        fontSize: 18, fontFamily: FONT, color: TEXT, margin: 4}}));
    yAxes.push(Object.assign({}, yb, {position: 'right',
      axisTick: Object.assign({customValues: Y_TICKS}, tick), axisLabel: {show: false}}));
    const [vals, outs] = DATA[st][k];
    const pts = [];
    vals.forEach((v, i) => { if (v !== null) pts.push([T0 + i * STEP, v / 10]); });
    outs.forEach(p => pts.push(p));
    series.push({type: 'scatter', name: st + ' ' + COMP_LABELS[k], xAxisIndex: 2 * gi, yAxisIndex: 2 * gi,
      data: pts, symbolSize: 6.5, clip: false, silent: true, animation: false,
      itemStyle: {color: COLORS[k], opacity: 1}});
    graphics.push({type: 'text', x: COL_LEFT[c] + COL_W[c] - 79, y: top + 10, silent: true, z: 100,
      style: {text: COMP_LABELS[k], fontSize: 18, fontFamily: FONT, fill: TEXT, align: 'left', verticalAlign: 'middle'}});
  }
});

const chart = echarts.init(document.getElementById('c'), null, {renderer: 'canvas'});
chart.setOption({
  animation: false,
  backgroundColor: '#ffffff',
  grid: grids, xAxis: xAxes, yAxis: yAxes, series: series,
  graphic: graphics
});
</script>
</body></html>
